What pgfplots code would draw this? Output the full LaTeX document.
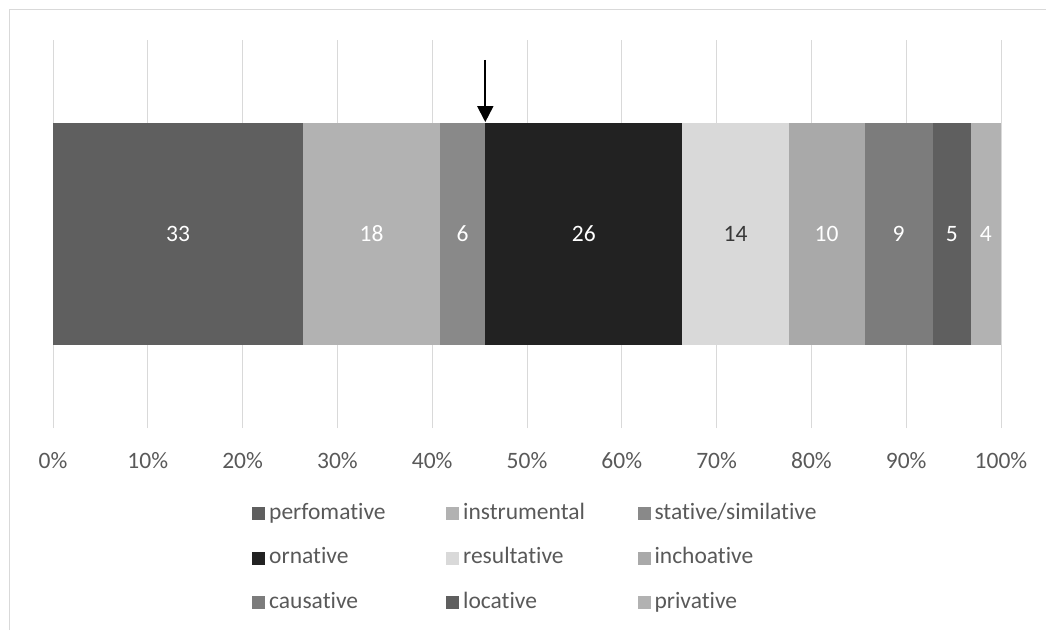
\documentclass[border=0pt]{standalone}
\usepackage{pgfplots}
\pgfplotsset{compat=1.18}
\usepackage{fontspec}
\setmainfont{Carlito}[Ligatures=NoCommon]
\usetikzlibrary{arrows.meta}

\definecolor{gridgray}{HTML}{D9D9D9}
\definecolor{txtgray}{HTML}{595959}
\definecolor{cPerf}{HTML}{5F5F5F}
\definecolor{cInst}{HTML}{B2B2B2}
\definecolor{cStat}{HTML}{898989}
\definecolor{cOrna}{HTML}{222222}
\definecolor{cResu}{HTML}{D9D9D9}
\definecolor{cInch}{HTML}{A9A9A9}
\definecolor{cCaus}{HTML}{7C7C7C}
\definecolor{cLoca}{HTML}{5F5F5F}
\definecolor{cPriv}{HTML}{B2B2B2}

\newcommand{\bigfont}{\fontsize{23.5}{28}\selectfont}

% one stacked segment: fill colour, count, label colour
\newcommand{\seg}[3]{%
  \addplot[fill=#1, draw=none, nodes near coords={#2},
    every node near coord/.append style={anchor=center, text=#3}]
    coordinates {(#2,1)};
}

\begin{document}
\begin{tikzpicture}
  \path[use as bounding box] (0,0) rectangle (1046pt,630pt);
  \draw[gridgray, line width=1pt] (9pt,0) -- (9pt,620pt) -- (1046pt,620pt);
  \begin{axis}[at={(53pt,202pt)}, anchor=south west,
      scale only axis, width=948pt, height=388pt,
      xbar stacked, bar width=222pt,
      xmin=0, xmax=125, ymin=0, ymax=2,
      xtick={0,12.5,...,125},
      xticklabels={0\%,10\%,20\%,30\%,40\%,50\%,60\%,70\%,80\%,90\%,100\%},
      ytick=\empty,
      axis line style={draw=none},
      major tick length=0pt,
      xmajorgrids, grid style={gridgray, line width=1pt},
      xticklabel style={font=\bigfont, text=txtgray, anchor=base, yshift=-40.5pt},
      nodes near coords style={font=\bigfont},
      legend columns=3,
      legend cell align=left,
      legend image code/.code={\fill[#1] (0pt,-6.5pt) rectangle (13pt,6.5pt);},
      legend style={at={(0.2099,-0.1933)}, anchor=north west, draw=none, fill=none,
        inner sep=0pt, font=\bigfont, text=txtgray, row sep=23.5pt,
        nodes={inner ysep=0pt, inner xsep=4pt, text height=16pt, text depth=5pt},
        /tikz/column 2/.append style={column sep=56.5pt},
        /tikz/column 4/.append style={column sep=48.5pt}},
    ]
    \seg{cPerf}{33}{white}
    \addlegendentry{perfomative}
    \seg{cInst}{18}{white}
    \addlegendentry{instrumental}
    \seg{cStat}{6}{white}
    \addlegendentry{stative/similative}
    \seg{cOrna}{26}{white}
    \addlegendentry{ornative}
    \seg{cResu}{14}{txtgray!120}
    \addlegendentry{resultative}
    \seg{cInch}{10}{white}
    \addlegendentry{inchoative}
    \seg{cCaus}{9}{white}
    \addlegendentry{causative}
    \seg{cLoca}{5}{white}
    \addlegendentry{locative}
    \seg{cPriv}{4}{white}
    \addlegendentry{privative}
    \draw[-{Triangle[width=16pt,length=16pt]}, line width=2pt]
      (axis cs:57,1.897) -- (axis cs:57,1.577);
  \end{axis}
\end{tikzpicture}
\end{document}
